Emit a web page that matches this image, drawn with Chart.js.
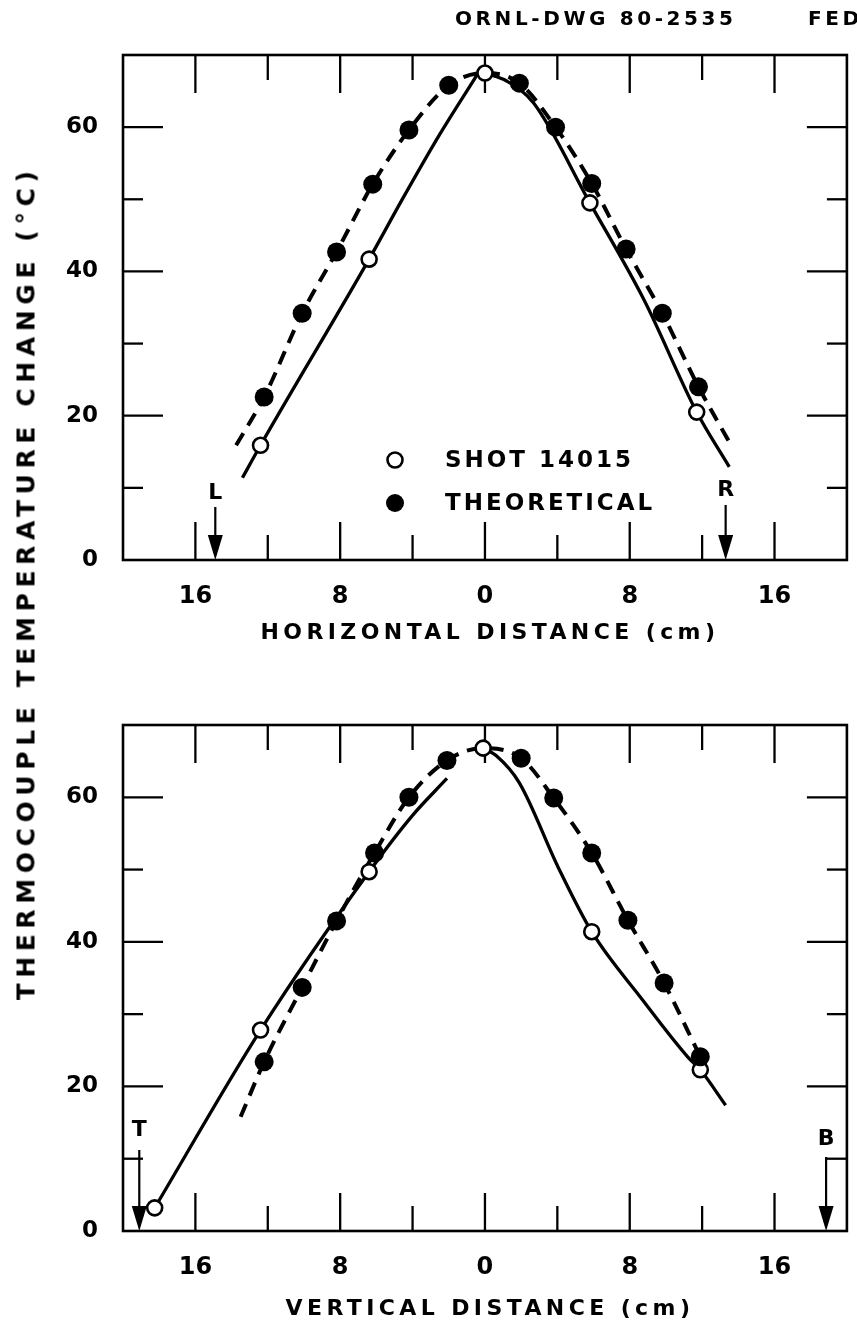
<!DOCTYPE html>
<html>
<head>
<meta charset="utf-8">
<script src="https://cdn.jsdelivr.net/npm/chart.js@4.4.1/dist/chart.umd.min.js"></script>
<style>
  body { margin: 0; background: #fff; }
  #wrap { position: relative; width: 857px; height: 1327px; background: #fff; }
  canvas { position: absolute; left: 0; }
  #ytitle {
    position: absolute; left: 26px; top: 583px;
    transform: translate(-50%, -50%) rotate(-90deg);
    white-space: nowrap; color: #000;
    font: bold 25px 'DejaVu Sans', sans-serif; letter-spacing: 5.6px;
  }
</style>
</head>
<body>
<div id="wrap">
  <canvas id="topChart" width="857" height="660" style="top:0"></canvas>
  <canvas id="bottomChart" width="857" height="667" style="top:660px"></canvas>
  <div id="ytitle">THERMOCOUPLE TEMPERATURE CHANGE (°C)</div>
</div>
<script>
const FONT = "'DejaVu Sans', sans-serif";

// axes: distance in cm (left of centre negative), temperature change in °C
const xTickMarks = [-16, -12, -8, -4, 0, 4, 8, 12, 16];
const xTickLabels = [-16, -8, 0, 8, 16];
const yTickMarks = [10, 20, 30, 40, 50, 60];
const yTickLabels = [0, 20, 40, 60];

// top panel - horizontal distance
const topTheoX = [-12.2, -10.1, -8.2, -6.2, -4.2, -2.0, 1.9, 3.9, 5.9, 7.8, 9.8, 11.8];
const topTheoY = [22.6, 34.2, 42.7, 52.1, 59.6, 65.8, 66.1, 60.0, 52.2, 43.1, 34.2, 24.0];
const topShotX = [-12.4, -6.4, 0, 5.8, 11.7];
const topShotY = [15.9, 41.7, 67.5, 49.5, 20.5];
const topTheoCurveX = [-13.75, -12.2, -10.1, -8.2, -6.2, -4.2, -2.0, 0, 1.9, 3.9, 5.9, 7.8, 9.8, 11.8, 13.6];
const topTheoCurveY = [15.9, 22.6, 34.2, 42.7, 52.1, 59.6, 65.8, 67.5, 66.1, 60.0, 52.2, 43.1, 34.2, 24.0, 15.9];
const topShotLeftX = [-13.4, -12.4, -6.4, -4.5, -2.5, -0.4];
const topShotLeftY = [11.4, 15.9, 41.7, 50.3, 59.0, 67.4];
const topShotRightX = [0, 1.2, 2.7, 5.8, 8.8, 11.7, 13.5];
const topShotRightY = [67.5, 66.4, 63.3, 49.5, 36.0, 20.5, 12.9];
const topEdgeNames = ['L', 'R'];
const topEdgeAt = [-14.9, 13.3];

// bottom panel - vertical distance
const botTheoX = [-12.2, -10.1, -8.2, -6.1, -4.2, -2.1, 2.0, 3.8, 5.9, 7.9, 9.9, 11.9];
const botTheoY = [23.4, 33.7, 42.9, 52.3, 60.0, 65.1, 65.4, 59.9, 52.3, 43.0, 34.3, 24.1];
const botShotX = [-18.25, -12.4, -6.4, -0.1, 5.9, 11.9];
const botShotY = [3.2, 27.8, 49.7, 66.8, 41.4, 22.3];
const botTheoCurveX = [-13.5, -12.2, -10.1, -8.2, -6.1, -4.2, -2.1, -0.1, 2.0, 3.8, 5.9, 7.9, 9.9, 11.9];
const botTheoCurveY = [15.8, 23.4, 33.7, 42.9, 52.3, 60.0, 65.1, 66.8, 65.4, 59.9, 52.3, 43.0, 34.3, 24.1];
const botShotLeftX = [-18.25, -12.4, -6.4, -4.0, -2.1];
const botShotLeftY = [3.2, 27.8, 49.7, 57.5, 62.6];
const botShotRightX = [-0.1, 0.6, 1.9, 4.05, 5.9, 8.7, 11.2, 11.9, 13.3];
const botShotRightY = [66.8, 65.8, 62.0, 50.3, 41.4, 32.0, 24.1, 22.3, 17.4];
const botEdgeNames = ['T', 'B'];
const botEdgeAt = [-19.1, 18.85];

function pts(xs, ys) {
    return xs.map((x, i) => ({ x: x, y: ys[i] }));
}

function line(ctx, x1, y1, x2, y2) {
    ctx.beginPath();
    ctx.moveTo(x1, y1);
    ctx.lineTo(x2, y2);
    ctx.stroke();
}

const dashed = (data) => ({
    data: data, borderColor: '#000', borderWidth: 4, borderDash: [14, 9],
    pointRadius: 0, cubicInterpolationMode: 'monotone', fill: false, order: 2
});
const solid = (data) => ({
    data: data, borderColor: '#000', borderWidth: 3.3,
    pointRadius: 0, cubicInterpolationMode: 'monotone', fill: false, order: 2
});
const filledDots = (data) => ({
    data: data, showLine: false, pointRadius: 9.5, pointHoverRadius: 9.5,
    pointBackgroundColor: '#000', pointBorderColor: '#000', pointBorderWidth: 0, order: 0
});
const openDots = (data) => ({
    data: data, showLine: false, pointRadius: 7.5, pointHoverRadius: 7.5,
    pointBackgroundColor: '#fff', pointBorderColor: '#000', pointBorderWidth: 2.6, order: 0
});

const panelDecor = {
    id: 'panelDecor',
    beforeDatasetsDraw(chart, args, o) {
        const { ctx, chartArea: a, scales } = chart;
        ctx.save();
        ctx.strokeStyle = '#000';
        ctx.lineWidth = 2.6;
        ctx.strokeRect(a.left, a.top, a.right - a.left, a.bottom - a.top);
        ctx.lineWidth = 2.3;
        xTickMarks.forEach(v => {
            const px = scales.x.getPixelForValue(v);
            const len = xTickLabels.includes(v) ? 38 : 25;
            line(ctx, px, a.bottom, px, a.bottom - len);
            line(ctx, px, a.top, px, a.top + len);
        });
        yTickMarks.forEach(v => {
            const py = scales.y.getPixelForValue(v);
            const len = yTickLabels.includes(v) ? 40 : 20;
            line(ctx, a.left, py, a.left + len, py);
            line(ctx, a.right, py, a.right - len, py);
        });
        ctx.restore();
    },
    afterDraw(chart, args, o) {
        const { ctx, chartArea: a, scales } = chart;
        ctx.save();
        ctx.fillStyle = '#000';
        ctx.strokeStyle = '#000';
        ctx.textAlign = 'center';
        ctx.textBaseline = 'middle';

        // axis title
        ctx.font = `bold 22px ${FONT}`;
        ctx.letterSpacing = '4.4px';
        ctx.fillText(o.title, (a.left + a.right) / 2 + 5, a.bottom + o.titleGap);

        // edge arrows
        ctx.letterSpacing = '0px';
        o.edgeNames.forEach((name, i) => {
            const px = scales.x.getPixelForValue(o.edgeAt[i]);
            const top = a.bottom - o.arrowLen[i];
            ctx.lineWidth = 2.2;
            line(ctx, px, top, px, a.bottom - 20);
            ctx.beginPath();
            ctx.moveTo(px - 7.5, a.bottom - 25);
            ctx.lineTo(px + 7.5, a.bottom - 25);
            ctx.lineTo(px, a.bottom);
            ctx.closePath();
            ctx.fill();
            ctx.font = `bold 22px ${FONT}`;
            ctx.fillText(name, px, top - o.labelGap[i]);
        });

        if (o.legend) {
            const mx = a.left + 272;
            const rows = [a.top + 405, a.top + 448];
            ctx.lineWidth = 2.6;
            ctx.beginPath();
            ctx.arc(mx, rows[0], 7.5, 0, Math.PI * 2);
            ctx.fillStyle = '#fff';
            ctx.fill();
            ctx.stroke();
            ctx.fillStyle = '#000';
            ctx.beginPath();
            ctx.arc(mx, rows[1], 9, 0, Math.PI * 2);
            ctx.fill();
            ctx.textAlign = 'left';
            ctx.font = `bold 23px ${FONT}`;
            ctx.letterSpacing = '3px';
            ctx.fillText('SHOT 14015', a.left + 322, rows[0] + 1);
            ctx.fillText('THEORETICAL', a.left + 322, rows[1] + 1);
        }

        if (o.header) {
            ctx.textAlign = 'left';
            ctx.font = `bold 20px ${FONT}`;
            ctx.letterSpacing = '3.6px';
            ctx.fillText('ORNL-DWG 80-2535', 455, a.top - 35);
            ctx.fillText('FED', 808, a.top - 35);
        }
        ctx.restore();
    }
};

function makePanel(id, datasets, decor, padTop, axisHeight) {
    return new Chart(document.getElementById(id), {
        type: 'line',
        data: { datasets: datasets },
        options: {
            responsive: false,
            animation: false,
            events: [],
            layout: { padding: { left: 0, right: 4, top: padTop, bottom: 0 } },
            scales: {
                x: {
                    type: 'linear', min: -20, max: 20,
                    grid: { display: false, drawTicks: false },
                    border: { display: false },
                    afterBuildTicks: s => { s.ticks = xTickLabels.map(v => ({ value: v })); },
                    afterFit: s => { s.height = axisHeight; },
                    ticks: {
                        autoSkip: false, maxRotation: 0, padding: 22, color: '#000',
                        font: { family: FONT, size: 24, weight: 'bold' },
                        callback: v => String(Math.abs(v))
                    }
                },
                y: {
                    type: 'linear', min: 0, max: 70,
                    grid: { display: false, drawTicks: false },
                    border: { display: false },
                    afterBuildTicks: s => { s.ticks = yTickLabels.map(v => ({ value: v })); },
                    afterFit: s => { s.width = 123; },
                    ticks: {
                        padding: 25, color: '#000',
                        font: { family: FONT, size: 23, weight: 'bold' },
                        callback: v => String(v)
                    }
                }
            },
            plugins: {
                legend: { display: false },
                tooltip: { enabled: false },
                panelDecor: decor
            }
        },
        plugins: [panelDecor]
    });
}

makePanel('topChart', [
    filledDots(pts(topTheoX, topTheoY)),
    openDots(pts(topShotX, topShotY)),
    dashed(pts(topTheoCurveX, topTheoCurveY)),
    solid(pts(topShotLeftX, topShotLeftY)),
    solid(pts(topShotRightX, topShotRightY))
], {
    title: 'HORIZONTAL DISTANCE (cm)', titleGap: 73,
    edgeNames: topEdgeNames, edgeAt: topEdgeAt,
    arrowLen: [53, 55], labelGap: [14, 15],
    legend: true, header: true
}, 55, 100);

makePanel('bottomChart', [
    filledDots(pts(botTheoX, botTheoY)),
    openDots(pts(botShotX, botShotY)),
    dashed(pts(botTheoCurveX, botTheoCurveY)),
    solid(pts(botShotLeftX, botShotLeftY)),
    solid(pts(botShotRightX, botShotRightY))
], {
    title: 'VERTICAL DISTANCE (cm)', titleGap: 78,
    edgeNames: botEdgeNames, edgeAt: botEdgeAt,
    arrowLen: [81, 74], labelGap: [20, 18],
    legend: false, header: false
}, 65, 96);
</script>
</body>
</html>
